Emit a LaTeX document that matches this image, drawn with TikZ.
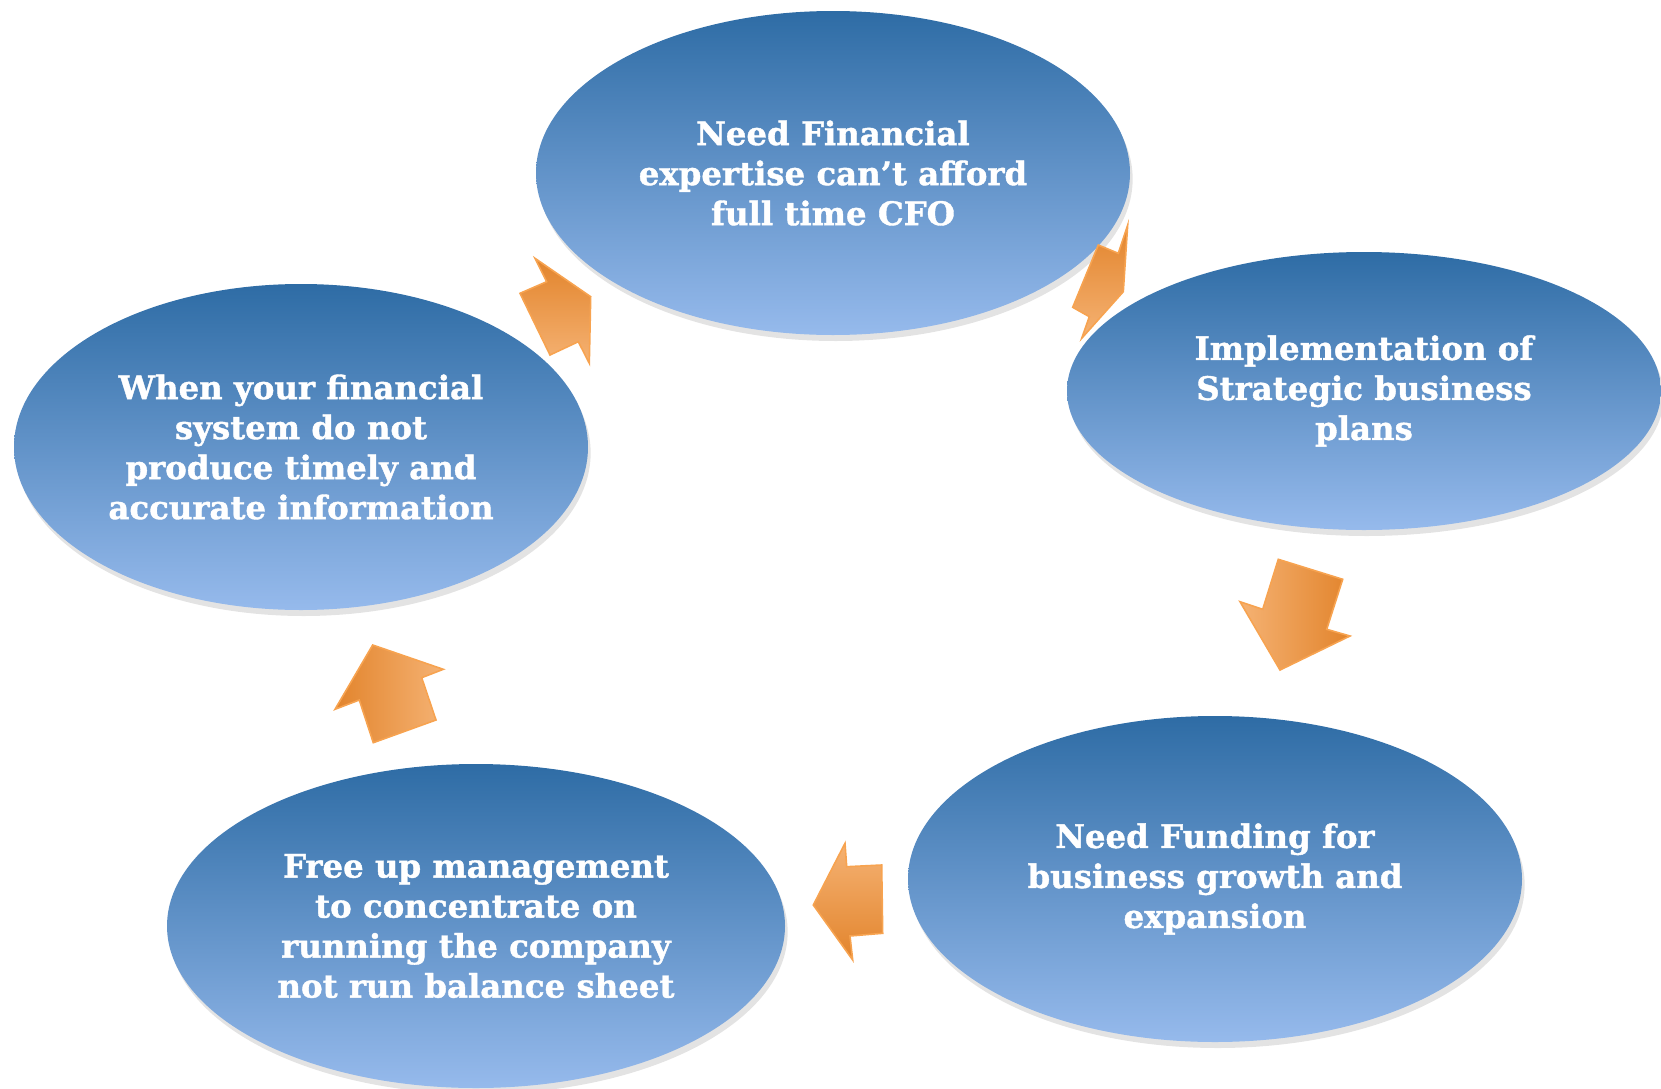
\documentclass[tikz,border=0pt]{standalone}
\usepackage{fontspec}
\setmainfont{DejaVu Serif}[BoldFeatures={FakeBold=1.2}]
\usetikzlibrary{shapes.geometric,shadows}
\definecolor{bluetop}{RGB}{46,108,165}
\definecolor{bluebot}{RGB}{150,186,236}
\definecolor{ordark}{RGB}{226,132,44}
\definecolor{orlight}{RGB}{245,178,115}
\definecolor{oredge}{RGB}{247,163,80}
\begin{document}
\begin{tikzpicture}[x=0.75pt,y=-0.75pt,
  bubble/.style={ellipse, inner sep=0pt, top color=bluetop, bottom color=bluebot,
    text=white, font=\bfseries\fontsize{24.3}{30}\selectfont, align=center,
    drop shadow={opacity=0.22, shadow xshift=2pt, shadow yshift=-4.5pt}},
  blockarrow/.style={draw=oredge, line width=1.2pt, line join=miter}]
\useasboundingbox (0,0) rectangle (1661,1089);
\clip (0,0) rectangle (1661,1089);

\node[bubble, minimum width=445.5pt, minimum height=243pt] (top) at (833,173)
  {Need Financial\\expertise can’t afford\\full time CFO};
\node[bubble, minimum width=445.5pt, minimum height=208.5pt] (right) at (1364,391)
  {Implementation of\\Strategic business\\plans};
\node[bubble, minimum width=460.5pt, minimum height=244.5pt] (br) at (1215,879)
  {Need Funding for\\business growth and\\expansion};
\node[bubble, minimum width=463.5pt, minimum height=243pt] (bl) at (476,926)
  {Free up management\\to concentrate on\\running the company\\not run balance sheet};
\node[bubble, minimum width=430.5pt, minimum height=244.5pt] (left) at (301,447)
  {When your financial\\system do not\\produce timely and\\accurate information};

% arrow top -> right
\draw[blockarrow, top color=ordark, bottom color=orlight]
  (1127.7,225) -- (1123.3,291.7) -- (1081.7,338.3) -- (1089.3,316.7)
  -- (1072.7,307.3) -- (1098.3,245) -- (1118.3,253.3) -- cycle;
% arrow right -> bottom right
\draw[blockarrow, left color=orlight, right color=ordark]
  (1278.3,559.3) -- (1342.7,579.3) -- (1326.7,629.3) -- (1350,636)
  -- (1280,670) -- (1240,601.7) -- (1262.7,609.3) -- cycle;
% arrow bottom right -> bottom left
\draw[blockarrow, top color=orlight, bottom color=ordark]
  (813.3,905) -- (845,843.3) -- (846.7,866.7) -- (881.7,865)
  -- (882.7,933.3) -- (850,936) -- (852.7,960) -- cycle;
% arrow bottom left -> left
\draw[blockarrow, left color=ordark, right color=orlight]
  (372.7,645) -- (443.3,669.3) -- (421.7,677.7) -- (436,720)
  -- (373.3,742.7) -- (359.3,700) -- (335,709.3) -- cycle;
% arrow left -> top
\draw[blockarrow, top color=ordark, bottom color=orlight]
  (535,258.3) -- (590.7,296.7) -- (589.3,363.3) -- (578.3,341.7)
  -- (550,355) -- (520,293.3) -- (546.7,281.7) -- cycle;
\end{tikzpicture}
\end{document}
